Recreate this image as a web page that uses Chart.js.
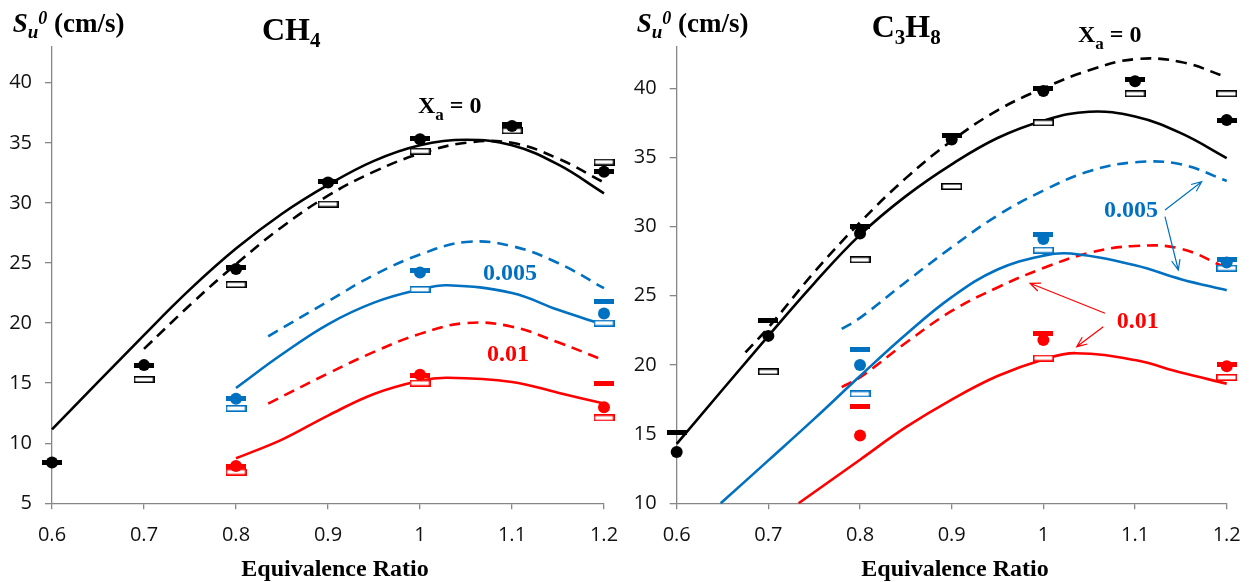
<!DOCTYPE html>
<html lang="en">
<head>
    <meta charset="UTF-8">
    <title>Laminar burning velocity - CH4 / C3H8</title>
    <script src="https://cdn.jsdelivr.net/npm/chart.js"></script>
    <style>
        body { margin: 0; background: #fff; }
        canvas { position: absolute; top: 0; }
        #ch4 { left: 0; }
        #c3h8 { left: 624px; }
    </style>
</head>
<body>
    <canvas id="ch4" width="624" height="582"></canvas>
    <canvas id="c3h8" width="625" height="582"></canvas>
    <script>
        // equivalence ratios of the measurements
        const phiAll = [0.6, 0.7, 0.8, 0.9, 1.0, 1.1, 1.2];
        const phiAdd = [0.8, 1.0, 1.2];

        // CH4 measurements (cm/s): circles, filled bars, open boxes
        const ch4CircleXa0 = [8.4, 16.5, 24.5, 31.7, 35.3, 36.4, 32.6];
        const ch4BarXa0 = [8.4, 16.5, 24.6, 31.8, 35.4, 36.5, 32.6];
        const ch4BoxXa0 = [null, 15.3, 23.2, 29.9, 34.3, 36.0, 33.4];
        const ch4Circle005 = [13.7, 24.2, 20.8];
        const ch4Bar005 = [13.7, 24.4, 21.8];
        const ch4Box005 = [12.9, 22.8, 20.0];
        const ch4Circle01 = [8.1, 15.7, 13.0];
        const ch4Bar01 = [8.1, 15.6, 15.0];
        const ch4Box01 = [7.6, 15.0, 12.1];

        // CH4 computed curves
        const ch4SolidXa0Phi = [0.6, 0.7, 0.75, 0.8, 0.85, 0.9, 0.95, 1.0, 1.05, 1.1, 1.15, 1.2];
        const ch4SolidXa0 = [11.15, 19.0, 22.8, 26.2, 29.1, 31.5, 33.5, 34.8, 35.25, 34.8, 33.2, 30.8];
        const ch4DashXa0Phi = [0.7, 0.75, 0.8, 0.85, 0.9, 0.95, 1.0, 1.05, 1.1, 1.15, 1.2];
        const ch4DashXa0 = [17.85, 21.5, 24.9, 28.0, 30.6, 32.6, 34.1, 35.0, 35.0, 33.7, 31.7];
        const ch4Dash005Phi = [0.835, 0.9, 0.95, 1.0, 1.05, 1.1, 1.15, 1.2];
        const ch4Dash005 = [18.9, 21.8, 24.0, 25.7, 26.75, 26.4, 25.0, 22.9];
        const ch4Solid005Phi = [0.8, 0.85, 0.9, 0.95, 1.0, 1.03, 1.1, 1.15, 1.2];
        const ch4Solid005 = [14.6, 17.4, 19.9, 21.7, 22.8, 23.15, 22.5, 21.1, 19.85];
        const ch4Dash01Phi = [0.835, 0.9, 0.95, 1.0, 1.05, 1.1, 1.15, 1.2];
        const ch4Dash01 = [13.3, 15.8, 17.6, 19.1, 20.0, 19.7, 18.4, 16.9];
        const ch4Solid01Phi = [0.8, 0.85, 0.9, 0.95, 1.0, 1.03, 1.1, 1.15, 1.2];
        const ch4Solid01 = [8.75, 10.3, 12.3, 14.1, 15.2, 15.45, 15.1, 14.2, 13.3];

        // C3H8 measurements (cm/s)
        const c3CircleXa0 = [13.7, 22.1, 29.5, 36.3, 39.8, 40.5, 37.7];
        const c3BarXa0 = [15.1, 23.2, 30.0, 36.6, 40.0, 40.6, 37.7];
        const c3BoxXa0 = [null, 19.5, 27.6, 32.9, 37.5, 39.6, 39.6];
        const c3Circle005 = [20.0, 29.1, 27.4];
        const c3Bar005 = [21.1, 29.45, 27.6];
        const c3Box005 = [17.9, 28.3, 27.0];
        const c3Circle01 = [14.9, 21.8, 19.9];
        const c3Bar01 = [17.0, 22.25, 20.0];
        const c3Box01 = [null, 20.5, 19.1];

        // C3H8 computed curves
        const c3SolidXa0Phi = [0.6, 0.7, 0.75, 0.8, 0.85, 0.9, 0.95, 1.0, 1.05, 1.1, 1.15, 1.2];
        const c3SolidXa0 = [14.3, 22.1, 25.9, 29.4, 32.2, 34.5, 36.4, 37.65, 38.3, 37.95, 36.75, 34.95];
        const c3DashXa0Phi = [0.675, 0.7, 0.75, 0.8, 0.85, 0.9, 0.95, 1.0, 1.05, 1.1, 1.15, 1.2];
        const c3DashXa0 = [20.9, 22.7, 26.7, 30.3, 33.5, 36.2, 38.4, 40.0, 41.3, 42.1, 41.9, 40.8];
        const c3Dash005Phi = [0.78, 0.8, 0.85, 0.9, 0.95, 1.0, 1.05, 1.1, 1.15, 1.2];
        const c3Dash005 = [22.6, 23.4, 26.0, 28.5, 30.8, 32.6, 34.0, 34.65, 34.5, 33.3];
        const c3Solid005Phi = [0.648, 0.7, 0.75, 0.8, 0.85, 0.9, 0.95, 1.0, 1.03, 1.1, 1.15, 1.2];
        const c3Solid005 = [10.0, 13.1, 16.1, 19.2, 22.2, 24.9, 26.9, 27.9, 28.05, 27.2, 26.2, 25.4];
        const c3Dash01Phi = [0.78, 0.8, 0.85, 0.9, 0.95, 1.0, 1.05, 1.1, 1.15, 1.2];
        const c3Dash01 = [18.4, 19.1, 21.6, 23.9, 25.6, 27.0, 28.1, 28.6, 28.4, 27.0];
        const c3Solid01Phi = [0.733, 0.8, 0.85, 0.9, 0.95, 1.0, 1.035, 1.1, 1.15, 1.2];
        const c3Solid01 = [10.0, 13.15, 15.5, 17.5, 19.2, 20.4, 20.85, 20.35, 19.45, 18.65];

        const BLACK = '#000000', BLUE = '#0070C0', RED = '#FF0000';
        const SERIF = '"Liberation Serif", "Times New Roman", serif';
        const SANS = '"Open Sans", "Liberation Sans", sans-serif';

        function pts(xs, ys) {
            return xs.map((x, i) => ({ x: x, y: ys[i] })).filter(p => p.y !== null);
        }

        function barIcon(color) {
            const c = document.createElement('canvas');
            c.width = 20; c.height = 5;
            const g = c.getContext('2d');
            g.fillStyle = color;
            g.fillRect(0, 0, 20, 5);
            return c;
        }

        function boxIcon(color) {
            const c = document.createElement('canvas');
            c.width = 21; c.height = 7;
            const g = c.getContext('2d');
            g.fillStyle = '#fff';
            g.fillRect(0, 0, 21, 7);
            g.strokeStyle = color;
            g.lineWidth = 1.6;
            g.strokeRect(0.8, 0.8, 19.4, 5.4);
            return c;
        }

        function markerSets(xs, circles, bars, boxes, color) {
            const common = { showLine: false, clip: false, pointBorderWidth: 0 };
            return [
                Object.assign({ data: pts(xs, circles), pointStyle: 'circle', pointRadius: 6, pointBackgroundColor: color, pointBorderColor: color }, common),
                Object.assign({ data: pts(xs, bars), pointStyle: barIcon(color), pointRadius: 10 }, common),
                Object.assign({ data: pts(xs, boxes), pointStyle: boxIcon(color), pointRadius: 10 }, common)
            ];
        }

        function curve(xs, ys, color, dashed) {
            return {
                data: pts(xs, ys),
                showLine: true,
                pointRadius: 0,
                borderColor: color,
                borderWidth: 2.6,
                borderDash: dashed ? [11, 7] : [],
                tension: 0.4,
                clip: false
            };
        }

        function rich(ctx, x, y, parts, color) {
            ctx.save();
            ctx.fillStyle = color;
            ctx.textAlign = 'left';
            ctx.textBaseline = 'alphabetic';
            for (const [t, font, dy] of parts) {
                ctx.font = font;
                ctx.fillText(t, x, y + dy);
                x += ctx.measureText(t).width;
            }
            ctx.restore();
        }

        function arrow(ctx, x1, y1, x2, y2, color) {
            const a = Math.atan2(y2 - y1, x2 - x1), h = 11;
            ctx.save();
            ctx.strokeStyle = color;
            ctx.lineWidth = 1.2;
            ctx.beginPath();
            ctx.moveTo(x1, y1);
            ctx.lineTo(x2, y2);
            ctx.moveTo(x2 - h * Math.cos(a - 0.4), y2 - h * Math.sin(a - 0.4));
            ctx.lineTo(x2, y2);
            ctx.lineTo(x2 - h * Math.cos(a + 0.4), y2 - h * Math.sin(a + 0.4));
            ctx.stroke();
            ctx.restore();
        }

        function axisTitles(ctx, xCenter) {
            rich(ctx, 12.7, 31.7, [
                ['S', 'italic bold 27px ' + SERIF, 0],
                ['u', 'italic bold 19px ' + SERIF, 6],
                ['0', 'italic bold 18px ' + SERIF, -8],
                [' (cm/s)', 'bold 27px ' + SERIF, 0]
            ], BLACK);
            ctx.save();
            ctx.font = 'bold 24px ' + SERIF;
            ctx.fillStyle = BLACK;
            ctx.textAlign = 'center';
            ctx.fillText('Equivalence Ratio', xCenter, 576);
            ctx.restore();
        }

        function xa0(ctx, x, y) {
            rich(ctx, x, y, [
                ['X', 'bold 24px ' + SERIF, 0],
                ['a', 'bold 17px ' + SERIF, 7],
                [' = 0', 'bold 24px ' + SERIF, 0]
            ], BLACK);
        }

        function makeChart(id, yMin, pad, datasets, drawText) {
            const axisColor = '#868686';
            return new Chart(document.getElementById(id), {
                type: 'scatter',
                data: { datasets: datasets },
                options: {
                    responsive: false,
                    animation: false,
                    layout: { padding: pad },
                    plugins: { legend: { display: false }, tooltip: { enabled: false } },
                    scales: {
                        x: {
                            type: 'linear', min: 0.6, max: 1.2,
                            afterFit: s => { s.height = 78.7; s.paddingLeft = 0; s.paddingRight = 0; },
                            grid: { drawOnChartArea: false, drawTicks: true, tickLength: 6, color: axisColor, lineWidth: 1.3 },
                            border: { color: axisColor, width: 1.3 },
                            ticks: {
                                stepSize: 0.1, padding: 14, color: '#111',
                                font: { family: SANS, size: 20 },
                                callback: v => String(Number(v.toFixed(1)))
                            }
                        },
                        y: {
                            type: 'linear', min: yMin, max: 43,
                            afterFit: s => { s.width = 52; s.paddingTop = 0; s.paddingBottom = 0; },
                            afterBuildTicks: s => { s.ticks = s.ticks.filter(t => Math.abs(t.value % 5) < 1e-6); },
                            grid: { drawOnChartArea: false, drawTicks: true, tickLength: 7, color: axisColor, lineWidth: 1.3 },
                            border: { color: axisColor, width: 1.3 },
                            ticks: { stepSize: 5, padding: 13, color: '#111', font: { family: SANS, size: 20 } }
                        }
                    }
                },
                plugins: [{ id: 'labels', afterDraw: c => drawText(c.ctx) }]
            });
        }

        // CH4 panel
        makeChart('ch4', 5, { left: 0, right: 20, top: 46.7, bottom: 0 }, [
            ...markerSets(phiAll, ch4CircleXa0, ch4BarXa0, ch4BoxXa0, BLACK),
            ...markerSets(phiAdd, ch4Circle005, ch4Bar005, ch4Box005, BLUE),
            ...markerSets(phiAdd, ch4Circle01, ch4Bar01, ch4Box01, RED),
            curve(ch4SolidXa0Phi, ch4SolidXa0, BLACK, false),
            curve(ch4DashXa0Phi, ch4DashXa0, BLACK, true),
            curve(ch4Solid005Phi, ch4Solid005, BLUE, false),
            curve(ch4Dash005Phi, ch4Dash005, BLUE, true),
            curve(ch4Solid01Phi, ch4Solid01, RED, false),
            curve(ch4Dash01Phi, ch4Dash01, RED, true)
        ], ctx => {
            axisTitles(ctx, 335);
            rich(ctx, 262, 40, [['CH', 'bold 32px ' + SERIF, 0], ['4', 'bold 21px ' + SERIF, 7]], BLACK);
            xa0(ctx, 418, 113.3);
            rich(ctx, 483, 280, [['0.005', 'bold 24px ' + SERIF, 0]], BLUE);
            rich(ctx, 487, 361, [['0.01', 'bold 24px ' + SERIF, 0]], RED);
        });

        // C3H8 panel
        makeChart('c3h8', 10, { left: 0.7, right: 22.3, top: 46.7, bottom: 0 }, [
            ...markerSets(phiAll, c3CircleXa0, c3BarXa0, c3BoxXa0, BLACK),
            ...markerSets(phiAdd, c3Circle005, c3Bar005, c3Box005, BLUE),
            ...markerSets(phiAdd, c3Circle01, c3Bar01, c3Box01, RED),
            curve(c3SolidXa0Phi, c3SolidXa0, BLACK, false),
            curve(c3DashXa0Phi, c3DashXa0, BLACK, true),
            curve(c3Solid005Phi, c3Solid005, BLUE, false),
            curve(c3Dash005Phi, c3Dash005, BLUE, true),
            curve(c3Solid01Phi, c3Solid01, RED, false),
            curve(c3Dash01Phi, c3Dash01, RED, true)
        ], ctx => {
            axisTitles(ctx, 331);
            rich(ctx, 247.7, 37, [
                ['C', 'bold 32px ' + SERIF, 0], ['3', 'bold 21px ' + SERIF, 7],
                ['H', 'bold 32px ' + SERIF, 0], ['8', 'bold 21px ' + SERIF, 7]
            ], BLACK);
            xa0(ctx, 454, 41.7);
            rich(ctx, 480, 217, [['0.005', 'bold 24px ' + SERIF, 0]], BLUE);
            arrow(ctx, 541, 210, 577.7, 181.7, BLUE);
            arrow(ctx, 541, 216.7, 554.3, 270, BLUE);
            rich(ctx, 492.7, 328, [['0.01', 'bold 24px ' + SERIF, 0]], RED);
            arrow(ctx, 481, 313.3, 406, 283.3, RED);
            arrow(ctx, 479.3, 326.7, 452.7, 346.7, RED);
        });
    </script>
</body>
</html>
